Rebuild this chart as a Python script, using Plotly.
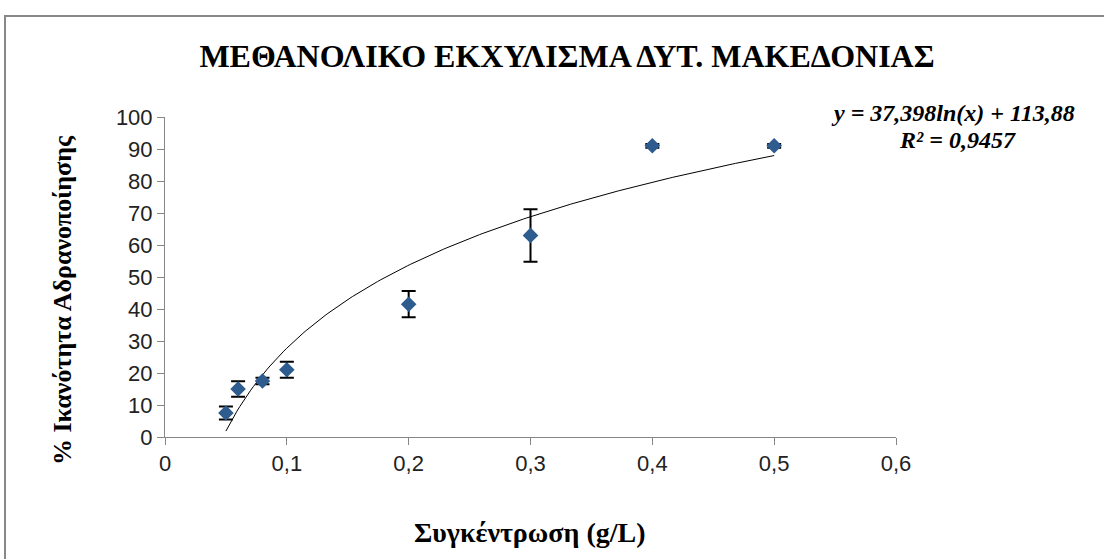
import numpy as np
import plotly.graph_objects as go

# Data
concentration = [0.05, 0.06, 0.08, 0.1, 0.2, 0.3, 0.4, 0.5]
inactivation = [7.5, 15.0, 17.5, 21.0, 41.5, 63.0, 91.0, 91.0]
error = [2.0, 2.4, 1.0, 2.5, 4.1, 8.2, 0.6, 0.6]

# Logarithmic trendline coefficients (as printed on chart)
trend_a = 37.398
trend_b = 113.88
r_squared = 0.9457

title_text = "ΜΕΘΑΝΟΛΙΚΟ ΕΚΧΥΛΙΣΜΑ ΔΥΤ. ΜΑΚΕΔΟΝΙΑΣ"
x_title = "Συγκέντρωση (g/L)"
y_title = "% Ικανότητα Αδρανοποίησης"
x_ticks = [0, 0.1, 0.2, 0.3, 0.4, 0.5, 0.6]
x_ticklabels = ["0", "0,1", "0,2", "0,3", "0,4", "0,5", "0,6"]
y_ticks = [0, 10, 20, 30, 40, 50, 60, 70, 80, 90, 100]

W, H = 1104, 559
L, R, T, B = 165, 896, 117, 437   # plot area in pixels


def px(x):
    return (x - L) / (R - L)


def py(y):
    return (B - y) / (B - T)


xt = np.linspace(min(concentration), max(concentration), 200)
yt = trend_a * np.log(xt) + trend_b

fig = go.Figure()
fig.add_trace(go.Scatter(x=xt, y=yt, mode="lines",
                         line=dict(color="black", width=1), hoverinfo="skip"))
fig.add_trace(go.Scatter(
    x=concentration, y=inactivation, mode="markers",
    marker=dict(symbol="diamond", size=12, color="#2E5C8F"),
    error_y=dict(type="data", array=error, visible=True, color="black",
                 thickness=2, width=7)))

serif = "Liberation Serif, Times New Roman, serif"
sans = "Liberation Sans, Arial, sans-serif"
fig.update_layout(
    width=W, height=H,
    margin=dict(l=L, r=W - R, t=T, b=H - B, autoexpand=False),
    paper_bgcolor="white", plot_bgcolor="white",
    showlegend=False,
    xaxis=dict(range=[0, 0.6], tickvals=x_ticks, ticktext=x_ticklabels,
               showgrid=False, zeroline=False, showline=True, automargin=False,
               linecolor="#868686", linewidth=1, ticks="outside",
               tickcolor="#868686", ticklen=7,
               tickfont=dict(family=sans, size=22, color="#222")),
    yaxis=dict(range=[0, 100], tickvals=y_ticks,
               showgrid=False, zeroline=False, showline=True, automargin=False,
               linecolor="#868686", linewidth=1, ticks="outside",
               tickcolor="#868686", ticklen=7,
               tickfont=dict(family=sans, size=22, color="#222")),
    title=dict(text="<b>" + title_text + "</b>", x=567 / W, xref="container",
               xanchor="center", y=1 - 56 / H, yref="container", yanchor="middle",
               font=dict(family=serif, size=32, color="black")),
)

# axis titles
fig.add_annotation(x=px(530), y=py(532), xref="paper", yref="paper",
                   text="<b>" + x_title + "</b>", showarrow=False,
                   xanchor="center", yanchor="middle",
                   font=dict(family=serif, size=28, color="black"))
fig.add_annotation(x=px(62), y=py(300), xref="paper", yref="paper",
                   text="<b>" + y_title + "</b>", showarrow=False, textangle=-90,
                   xanchor="center", yanchor="middle",
                   font=dict(family=serif, size=26, color="black"))

# trendline equation
eq = f"y = {str(trend_a).replace('.', ',')}ln(x) + {str(trend_b).replace('.', ',')}"
r2 = f"R² = {str(r_squared).replace('.', ',')}"
fig.add_annotation(x=px(1077), y=py(113), xref="paper", yref="paper",
                   text="<b><i>" + eq + "</i></b>", showarrow=False,
                   xanchor="right", yanchor="middle",
                   font=dict(family=serif, size=24, color="black"))
fig.add_annotation(x=px(957), y=py(140), xref="paper", yref="paper",
                   text="<b><i>" + r2 + "</i></b>", showarrow=False,
                   xanchor="center", yanchor="middle",
                   font=dict(family=serif, size=24, color="black"))

# outer chart border
fig.add_shape(type="rect", xref="paper", yref="paper",
              x0=px(5), x1=px(1115), y0=py(575), y1=py(16),
              line=dict(color="#888888", width=2), layer="below")

fig.write_html("out.html", config={"displayModeBar": False},
               post_script="document.body.style.margin='0';"
                           "document.body.style.overflow='hidden';")
